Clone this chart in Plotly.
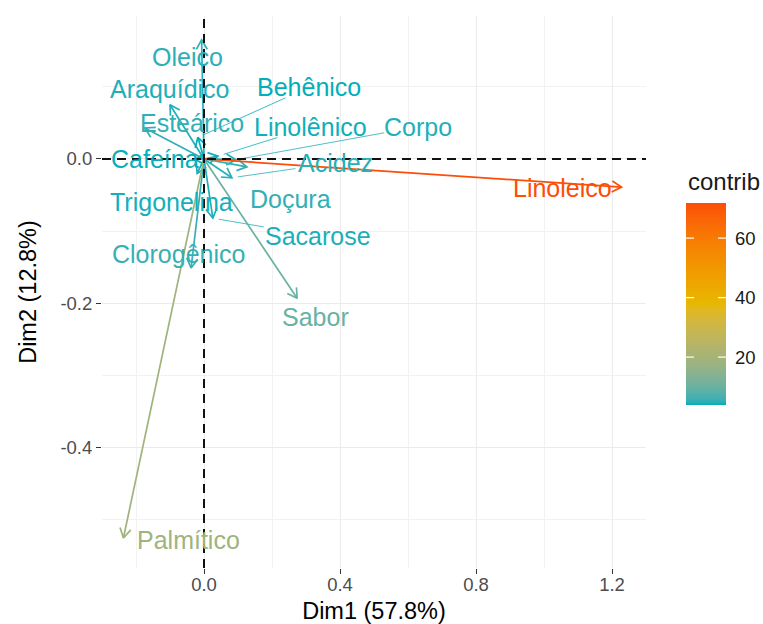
import math
import plotly.graph_objects as go

# ---------------- data ----------------
variables = ["Oleico", "Araquídico", "Esteárico", "Behênico", "Linolênico", "Corpo",
             "Cafeína", "Acidez", "Doçura", "Trigonelina", "Sacarose", "Clorogênico",
             "Sabor", "Palmítico", "Linoleico"]
dim1 = [-0.007, -0.100, -0.174, -0.018, 0.041, 0.094, -0.026, 0.082, 0.126, -0.020,
        0.026, -0.038, 0.274, -0.237, 1.228]
dim2 = [0.165, 0.075, 0.043, 0.030, 0.004, -0.001, -0.001, -0.026, -0.011, -0.020,
        -0.082, -0.151, -0.193, -0.525, -0.039]
contrib = [5.0, 4.5, 5.2, 3.9, 4.1, 4.6, 4.0, 4.8, 5.3, 4.2, 4.4, 5.6, 10.0, 19.0, 71.8]

x_tickvals = [0.0, 0.4, 0.8, 1.2]
x_ticktext = ["0.0", "0.4", "0.8", "1.2"]
y_tickvals = [-0.4, -0.2, 0.0]
y_ticktext = ["-0.4", "-0.2", "0.0"]
cb_tickvals = [20, 40, 60]
x_title = "Dim1 (57.8%)"
y_title = "Dim2 (12.8%)"
legend_title = "contrib"
palette = ["#00AFBB", "#E7B800", "#FC4E07"]

# label placement (ggrepel-like offsets in pixels: dx right, dy up) and segments
label_offsets = {
    "Oleico": (-14, -17), "Araquídico": (0, 16), "Esteárico": (47, 5),
    "Behênico": (111, 50), "Linolênico": (93, 29), "Corpo": (182, 33),
    "Cafeína": (-40, 1), "Acidez": (104, 15), "Doçura": (44, -32),
    "Trigonelina": (-26, -29), "Sacarose": (105, -18), "Clorogênico": (-13, 14),
    "Sabor": (18, -19), "Palmítico": (65, -2), "Linoleico": (-59, -1),
}
with_segment = {"Behênico", "Linolênico", "Corpo", "Acidez", "Sacarose"}

# ---------------- layout geometry (pixels) ----------------
W, H = 763, 624
ML, MR, MT, MB = 102, 17, 16, 56
PANEL_R = 646            # right edge of main panel
CB_L, CB_R, CB_T, CB_B = 686, 726, 203, 405   # colour bar box
AW, AH = W - ML - MR, H - MT - MB
xr = [-0.30, 1.30]
yr = [-0.5665, 0.198]
PW = PANEL_R - ML
PH = AH
sx = PW / (xr[1] - xr[0])
sy = PH / (yr[1] - yr[0])
FONT = "Liberation Sans, Arial, sans-serif"
LABEL_SIZE = 25

def px2fx(p):
    return (p - ML) / AW

def py2fy(p):
    return (H - MB - p) / AH

# ---------------- Lab colour interpolation ----------------
def hex2rgb(h):
    h = h.lstrip("#")
    return [int(h[i:i + 2], 16) for i in (0, 2, 4)]

def rgb2lab(rgb):
    def lin(c):
        c = c / 255.0
        return c / 12.92 if c <= 0.04045 else ((c + 0.055) / 1.055) ** 2.4
    r, g, b = [lin(c) for c in rgb]
    X = 0.4124564 * r + 0.3575761 * g + 0.1804375 * b
    Y = 0.2126729 * r + 0.7151522 * g + 0.0721750 * b
    Z = 0.0193339 * r + 0.1191920 * g + 0.9503041 * b
    Xn, Yn, Zn = 0.95047, 1.0, 1.08883
    def f(t):
        return t ** (1 / 3) if t > (6 / 29) ** 3 else t / (3 * (6 / 29) ** 2) + 4 / 29
    fx, fy, fz = f(X / Xn), f(Y / Yn), f(Z / Zn)
    return [116 * fy - 16, 500 * (fx - fy), 200 * (fy - fz)]

def lab2rgb(lab):
    L, a, b = lab
    fy = (L + 16) / 116
    fx = fy + a / 500
    fz = fy - b / 200
    def finv(t):
        return t ** 3 if t > 6 / 29 else 3 * (6 / 29) ** 2 * (t - 4 / 29)
    Xn, Yn, Zn = 0.95047, 1.0, 1.08883
    X, Y, Z = Xn * finv(fx), Yn * finv(fy), Zn * finv(fz)
    r = 3.2404542 * X - 1.5371385 * Y - 0.4985314 * Z
    g = -0.9692660 * X + 1.8760108 * Y + 0.0415560 * Z
    bb = 0.0556434 * X - 0.2040259 * Y + 1.0572252 * Z
    def gam(c):
        c = max(0.0, min(1.0, c))
        return 12.92 * c if c <= 0.0031308 else 1.055 * c ** (1 / 2.4) - 0.055
    return [round(255 * gam(c)) for c in (r, g, bb)]

labs = [rgb2lab(hex2rgb(c)) for c in palette]

def color_at(t):
    t = max(0.0, min(1.0, t))
    n = len(labs) - 1
    i = min(int(t * n), n - 1)
    u = t * n - i
    lab = [labs[i][k] + (labs[i + 1][k] - labs[i][k]) * u for k in range(3)]
    r, g, b = lab2rgb(lab)
    return f"rgb({r},{g},{b})"

cmin, cmax = min(contrib), max(contrib)
colorscale = [[k / 60, color_at(k / 60)] for k in range(61)]

def col_of(v):
    return color_at((v - cmin) / (cmax - cmin))

# ---------------- figure ----------------
fig = go.Figure()

HEAD_L, HEAD_ANG = 11, math.radians(30)
for name, x, y, c in zip(variables, dim1, dim2, contrib):
    col = col_of(c)
    ux, uy = x * sx, -y * sy
    n = math.hypot(ux, uy)
    ux, uy = ux / n, uy / n
    wings = []
    for s in (1, -1):
        ca, sa = math.cos(s * HEAD_ANG), math.sin(s * HEAD_ANG)
        rx, ry = ux * ca - uy * sa, ux * sa + uy * ca
        wings.append((x - HEAD_L * rx / sx, y + HEAD_L * ry / sy))
    xs = [0, x, None, wings[0][0], x, wings[1][0]]
    ys = [0, y, None, wings[0][1], y, wings[1][1]]
    fig.add_trace(go.Scatter(x=xs, y=ys, mode="lines",
                             line=dict(color=col, width=1.7),
                             hoverinfo="skip", showlegend=False))

    dx, dy = label_offsets[name]
    if name in with_segment:
        hw = 0.27 * LABEL_SIZE * len(name)
        hh = 0.42 * LABEL_SIZE
        vx, vy = -dx, -dy
        tx = hw / abs(vx) if vx else 1e9
        ty = hh / abs(vy) if vy else 1e9
        t0 = min(tx, ty)
        L = math.hypot(vx, vy)
        t1 = 1 - 6 / L
        if t1 > t0:
            p0 = (dx + vx * t0, dy + vy * t0)
            p1 = (dx + vx * t1, dy + vy * t1)
            fig.add_trace(go.Scatter(
                x=[x + p0[0] / sx, x + p1[0] / sx],
                y=[y + p0[1] / sy, y + p1[1] / sy],
                mode="lines", line=dict(color=col, width=0.8),
                hoverinfo="skip", showlegend=False))
    fig.add_annotation(x=x, y=y, xref="x", yref="y", text=name, showarrow=False,
                       xshift=dx, yshift=dy, xanchor="center", yanchor="middle",
                       font=dict(family=FONT, size=LABEL_SIZE, color=col))

# ---------------- colour bar (heatmap on its own axes) ----------------
NB = 200
cb_vals = [cmin + (cmax - cmin) * (k + 0.5) / NB for k in range(NB)]
fig.add_trace(go.Heatmap(x=[0, 1], y=cb_vals, z=[[v, v] for v in cb_vals],
                         colorscale=colorscale, zmin=cmin, zmax=cmax, showscale=False,
                         hoverinfo="skip", xaxis="x2", yaxis="y2"))
for v in cb_tickvals:
    for x0, x1 in ((0, 0.2), (0.8, 1)):
        fig.add_shape(type="line", xref="x2", yref="y2", x0=x0, x1=x1, y0=v, y1=v,
                      line=dict(color="white", width=1.2), layer="above")
fig.add_annotation(xref="paper", yref="paper", x=px2fx(CB_L), y=py2fy(CB_T - 6),
                   xanchor="left", yanchor="bottom", text=legend_title, showarrow=False,
                   font=dict(family=FONT, size=24, color="#1a1a1a"))

# dashed reference lines
for sh in [dict(type="line", xref="x domain", yref="y", x0=0, x1=1, y0=0, y1=0),
           dict(type="line", xref="x", yref="y domain", x0=0, x1=0, y0=0, y1=1)]:
    sh.update(line=dict(color="#111111", width=2, dash="9px,6px"), layer="above")
    fig.add_shape(**sh)

grid_major = "#EBEBEB"
axis_common = dict(showline=False, zeroline=False, ticks="outside", ticklen=5,
                   tickwidth=1.3, tickcolor="#333333", gridcolor=grid_major, gridwidth=1.2,
                   tickfont=dict(family=FONT, size=18.5, color="#4D4D4D"))
fig.update_layout(
    xaxis=dict(domain=[0, px2fx(PANEL_R)], range=xr, tickvals=x_tickvals, ticktext=x_ticktext,
               minor=dict(tickvals=[-0.2, 0.2, 0.6, 1.0], showgrid=True,
                          gridcolor="#F2F2F2", gridwidth=0.8, ticks=""),
               ticklabelstandoff=-5,
               title=dict(text=x_title, standoff=11,
                          font=dict(family=FONT, size=23.5, color="black")),
               **axis_common),
    yaxis=dict(domain=[0, 1], range=yr, tickvals=y_tickvals, ticktext=y_ticktext,
               minor=dict(tickvals=[-0.5, -0.3, -0.1, 0.1], showgrid=True,
                          gridcolor="#F2F2F2", gridwidth=0.8, ticks=""),
               title=dict(text=y_title, standoff=17,
                          font=dict(family=FONT, size=23.5, color="black")),
               **axis_common),
    xaxis2=dict(domain=[px2fx(CB_L), px2fx(CB_R)], range=[0, 1], anchor="y2",
                showgrid=False, zeroline=False, showticklabels=False, ticks="",
                fixedrange=True),
    yaxis2=dict(domain=[py2fy(CB_B), py2fy(CB_T)], range=[cmin, cmax], anchor="x2",
                side="right", showgrid=False, zeroline=False, ticks="",
                tickvals=cb_tickvals, ticklabelstandoff=8, fixedrange=True,
                tickfont=dict(family=FONT, size=18.5, color="#1a1a1a")),
    width=W, height=H, margin=dict(l=ML, r=MR, t=MT, b=MB, autoexpand=False),
    paper_bgcolor="white", plot_bgcolor="white", font=dict(family=FONT),
)

fig.write_html("out.html")
